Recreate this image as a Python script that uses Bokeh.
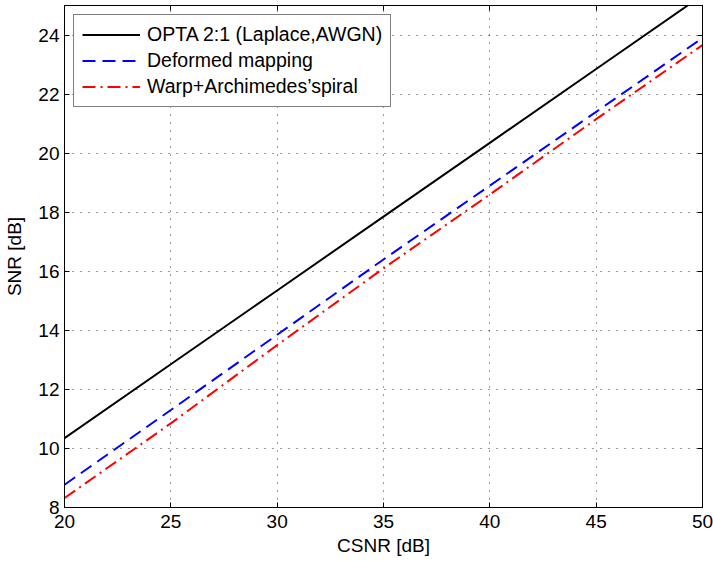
from bokeh.plotting import figure
from bokeh.models import LinearAxis, Legend, LegendItem, Range1d, FixedTicker, CustomJSTickFormatter
from bokeh.embed import file_html
from bokeh.resources import INLINE

csnr = [20, 25, 30, 35, 40, 45, 50]
opta = [10.35, 12.85, 15.35, 17.85, 20.35, 22.85, 25.35]
deformed = [8.77, 11.3, 13.85, 16.4, 18.9, 21.4, 23.9]
warp = [8.32, 10.85, 13.5, 16.1, 18.6, 21.15, 23.66]

xticks = [20, 25, 30, 35, 40, 45, 50]
yticks = [8, 10, 12, 14, 16, 18, 20, 22, 24]

FONT = "Liberation Sans"
FS = "19px"

p = figure(width=713, height=562, output_backend="svg", toolbar_location=None,
           x_range=Range1d(20, 50), y_range=Range1d(8, 25),
           min_border_left=64, min_border_right=11, min_border_top=5, min_border_bottom=55)
p.background_fill_color = "white"
p.border_fill_color = "white"
p.outline_line_color = "black"
p.outline_line_width = 1

for ax in (p.xaxis[0], p.yaxis[0]):
    ax.major_tick_in = 5
    ax.major_tick_out = 0
    ax.minor_tick_in = 0
    ax.minor_tick_out = 0
    ax.major_label_text_font = FONT
    ax.major_label_text_font_size = FS
    ax.major_label_text_color = "black"
    ax.axis_label_text_font = FONT
    ax.axis_label_text_font_size = FS
    ax.axis_label_text_font_style = "normal"
    ax.axis_label_text_color = "black"
    ax.axis_line_color = "black"
    ax.major_tick_line_color = "black"

p.xaxis[0].ticker = FixedTicker(ticks=xticks)
p.yaxis[0].ticker = FixedTicker(ticks=yticks)
p.xaxis[0].axis_label = "CSNR [dB]"
p.yaxis[0].axis_label = "SNR [dB]"
p.xaxis[0].major_label_standoff = 7
p.yaxis[0].major_label_standoff = 5
p.xaxis[0].axis_label_standoff = 4
p.yaxis[0].axis_label_standoff = 10

for loc, tk in (("above", xticks), ("right", yticks)):
    ax = LinearAxis(ticker=FixedTicker(ticks=tk))
    ax.formatter = CustomJSTickFormatter(code="return '';")
    ax.major_tick_in = 5
    ax.major_tick_out = 0
    ax.minor_tick_in = 0
    ax.minor_tick_out = 0
    ax.major_label_standoff = 0
    ax.axis_line_color = "black"
    ax.major_tick_line_color = "black"
    p.add_layout(ax, loc)

p.xgrid.ticker = FixedTicker(ticks=xticks)
p.ygrid.ticker = FixedTicker(ticks=yticks)
for g in (p.xgrid[0], p.ygrid[0]):
    g.grid_line_color = "#333333"
    g.grid_line_dash = "1 7"
    g.grid_line_width = 1

r1 = p.line(csnr, opta, line_color="black", line_width=2)
r2 = p.line(csnr, deformed, line_color="#0000ff", line_width=2, line_dash="13 7")
r3 = p.line(csnr, warp, line_color="#ff0000", line_width=2, line_dash="13 5 2 5")

legend = Legend(items=[
    LegendItem(label="OPTA 2:1 (Laplace,AWGN)", renderers=[r1]),
    LegendItem(label="Deformed mapping", renderers=[r2]),
    LegendItem(label="Warp+Archimedes\u2019spiral", renderers=[r3]),
], location="top_left")
legend.label_text_font = FONT
legend.label_text_font_size = "19.5px"
legend.label_text_color = "black"
legend.border_line_color = "black"
legend.border_line_width = 1
legend.background_fill_color = "white"
legend.background_fill_alpha = 1
legend.glyph_width = 58
legend.glyph_height = 21
legend.label_height = 21
legend.label_standoff = 7
legend.spacing = 3
legend.padding = 8
legend.margin = 9
legend.label_text_baseline = "middle"
p.add_layout(legend, "center")

open("out.html", "w").write(file_html(p, INLINE))
